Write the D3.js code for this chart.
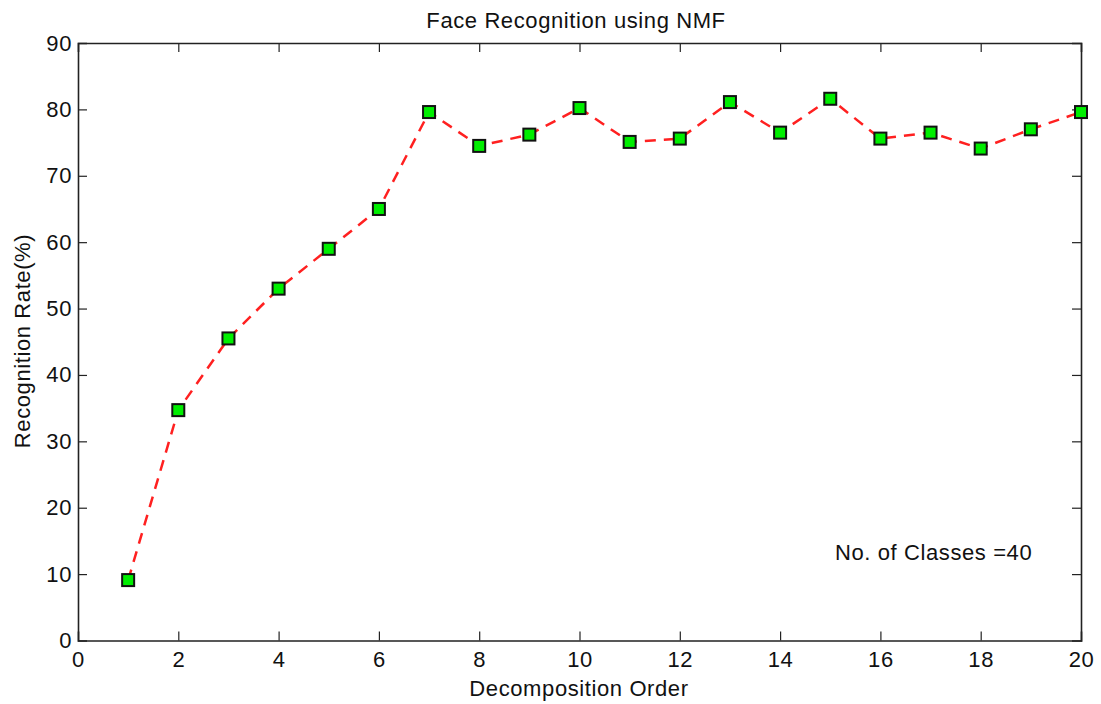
<!DOCTYPE html>
<html>
<head>
<meta charset="utf-8">
<script src="https://cdn.jsdelivr.net/npm/d3@7"></script>
<style>
  html, body { margin: 0; padding: 0; background: #fff; }
  svg { display: block; font-family: "Liberation Sans", Arial, Helvetica, sans-serif; }
</style>
</head>
<body>
<svg id="chart" width="1101" height="704"></svg>
<script>
const orders = [1,2,3,4,5,6,7,8,9,10,11,12,13,14,15,16,17,18,19,20];
const rates  = [9.1,34.7,45.5,53.0,59.0,65.0,79.6,74.5,76.2,80.2,75.1,75.6,81.1,76.5,81.6,75.6,76.5,74.1,77.0,79.6];
const xTicks = [0,2,4,6,8,10,12,14,16,18,20];
const yTicks = [0,10,20,30,40,50,60,70,80,90];
const titleText = "Face Recognition using NMF";
const xLabel = "Decomposition Order";
const yLabel = "Recognition Rate(%)";
const annotation = "No. of Classes =40";

(function () {
const svg = d3.select("#chart");
const m = {left: 78, top: 43, right: 1081, bottom: 640.5};
const x = d3.scaleLinear().domain([0, 20]).range([m.left, m.right]);
const y = d3.scaleLinear().domain([0, 90]).range([m.bottom, m.top]);
const tickLen = 9;
const fs = 22;
const ls = "0.6px";

const axCol = "#222";
const gBottom = svg.append("g").attr("transform", `translate(0,${m.bottom})`)
  .call(d3.axisBottom(x).tickValues(xTicks).tickSize(-tickLen).tickPadding(11).tickFormat(d3.format("d")));
const gTop = svg.append("g").attr("transform", `translate(0,${m.top})`)
  .call(d3.axisTop(x).tickValues(xTicks).tickSize(-tickLen).tickFormat(""));
const gLeft = svg.append("g").attr("transform", `translate(${m.left},0)`)
  .call(d3.axisLeft(y).tickValues(yTicks).tickSize(-tickLen).tickPadding(6).tickFormat(d3.format("d")));
const gRight = svg.append("g").attr("transform", `translate(${m.right},0)`)
  .call(d3.axisRight(y).tickValues(yTicks).tickSize(-tickLen).tickFormat(""));
[gBottom, gTop, gLeft, gRight].forEach(g => {
  g.select(".domain").attr("stroke", axCol).attr("stroke-width", 1.6);
  g.selectAll(".tick line").attr("stroke", axCol).attr("stroke-width", 1.2);
  g.selectAll(".tick text").attr("fill", "#111").style("font-size", fs + "px")
    .style("letter-spacing", ls)
    .style("font-family", "'Liberation Sans', Arial, sans-serif");
});
[gBottom, gTop].forEach(g => g.selectAll(".tick line").filter(d => d === 0 || d === 20).remove());
[gLeft, gRight].forEach(g => g.selectAll(".tick line").filter(d => d === 0 || d === 90).remove());

const line = d3.line().x((d, i) => x(orders[i])).y(d => y(d));
svg.append("path").datum(rates)
  .attr("d", line)
  .attr("fill", "none")
  .attr("stroke", "#ff2020")
  .attr("stroke-width", 2.5)
  .attr("stroke-dasharray", "11,8");

const ms = 12;
svg.append("g").selectAll("rect").data(rates).join("rect")
  .attr("x", (d, i) => x(orders[i]) - ms / 2)
  .attr("y", d => y(d) - ms / 2)
  .attr("width", ms).attr("height", ms)
  .attr("fill", "#00ee00")
  .attr("stroke", "#111")
  .attr("stroke-width", 2);

const txt = (sel) => sel.style("font-size", fs + "px").style("letter-spacing", ls).attr("fill", "#111");
svg.append("text").attr("x", 576).attr("y", 28).attr("text-anchor", "middle").call(txt).text(titleText);
svg.append("text").attr("x", 579).attr("y", 696).attr("text-anchor", "middle").call(txt).text(xLabel);
svg.append("text").attr("transform", `translate(30,341) rotate(-90)`).attr("text-anchor", "middle").call(txt).text(yLabel);
svg.append("text").attr("x", 835).attr("y", 560).attr("text-anchor", "start").call(txt).text(annotation);
})();
</script>
</body>
</html>
